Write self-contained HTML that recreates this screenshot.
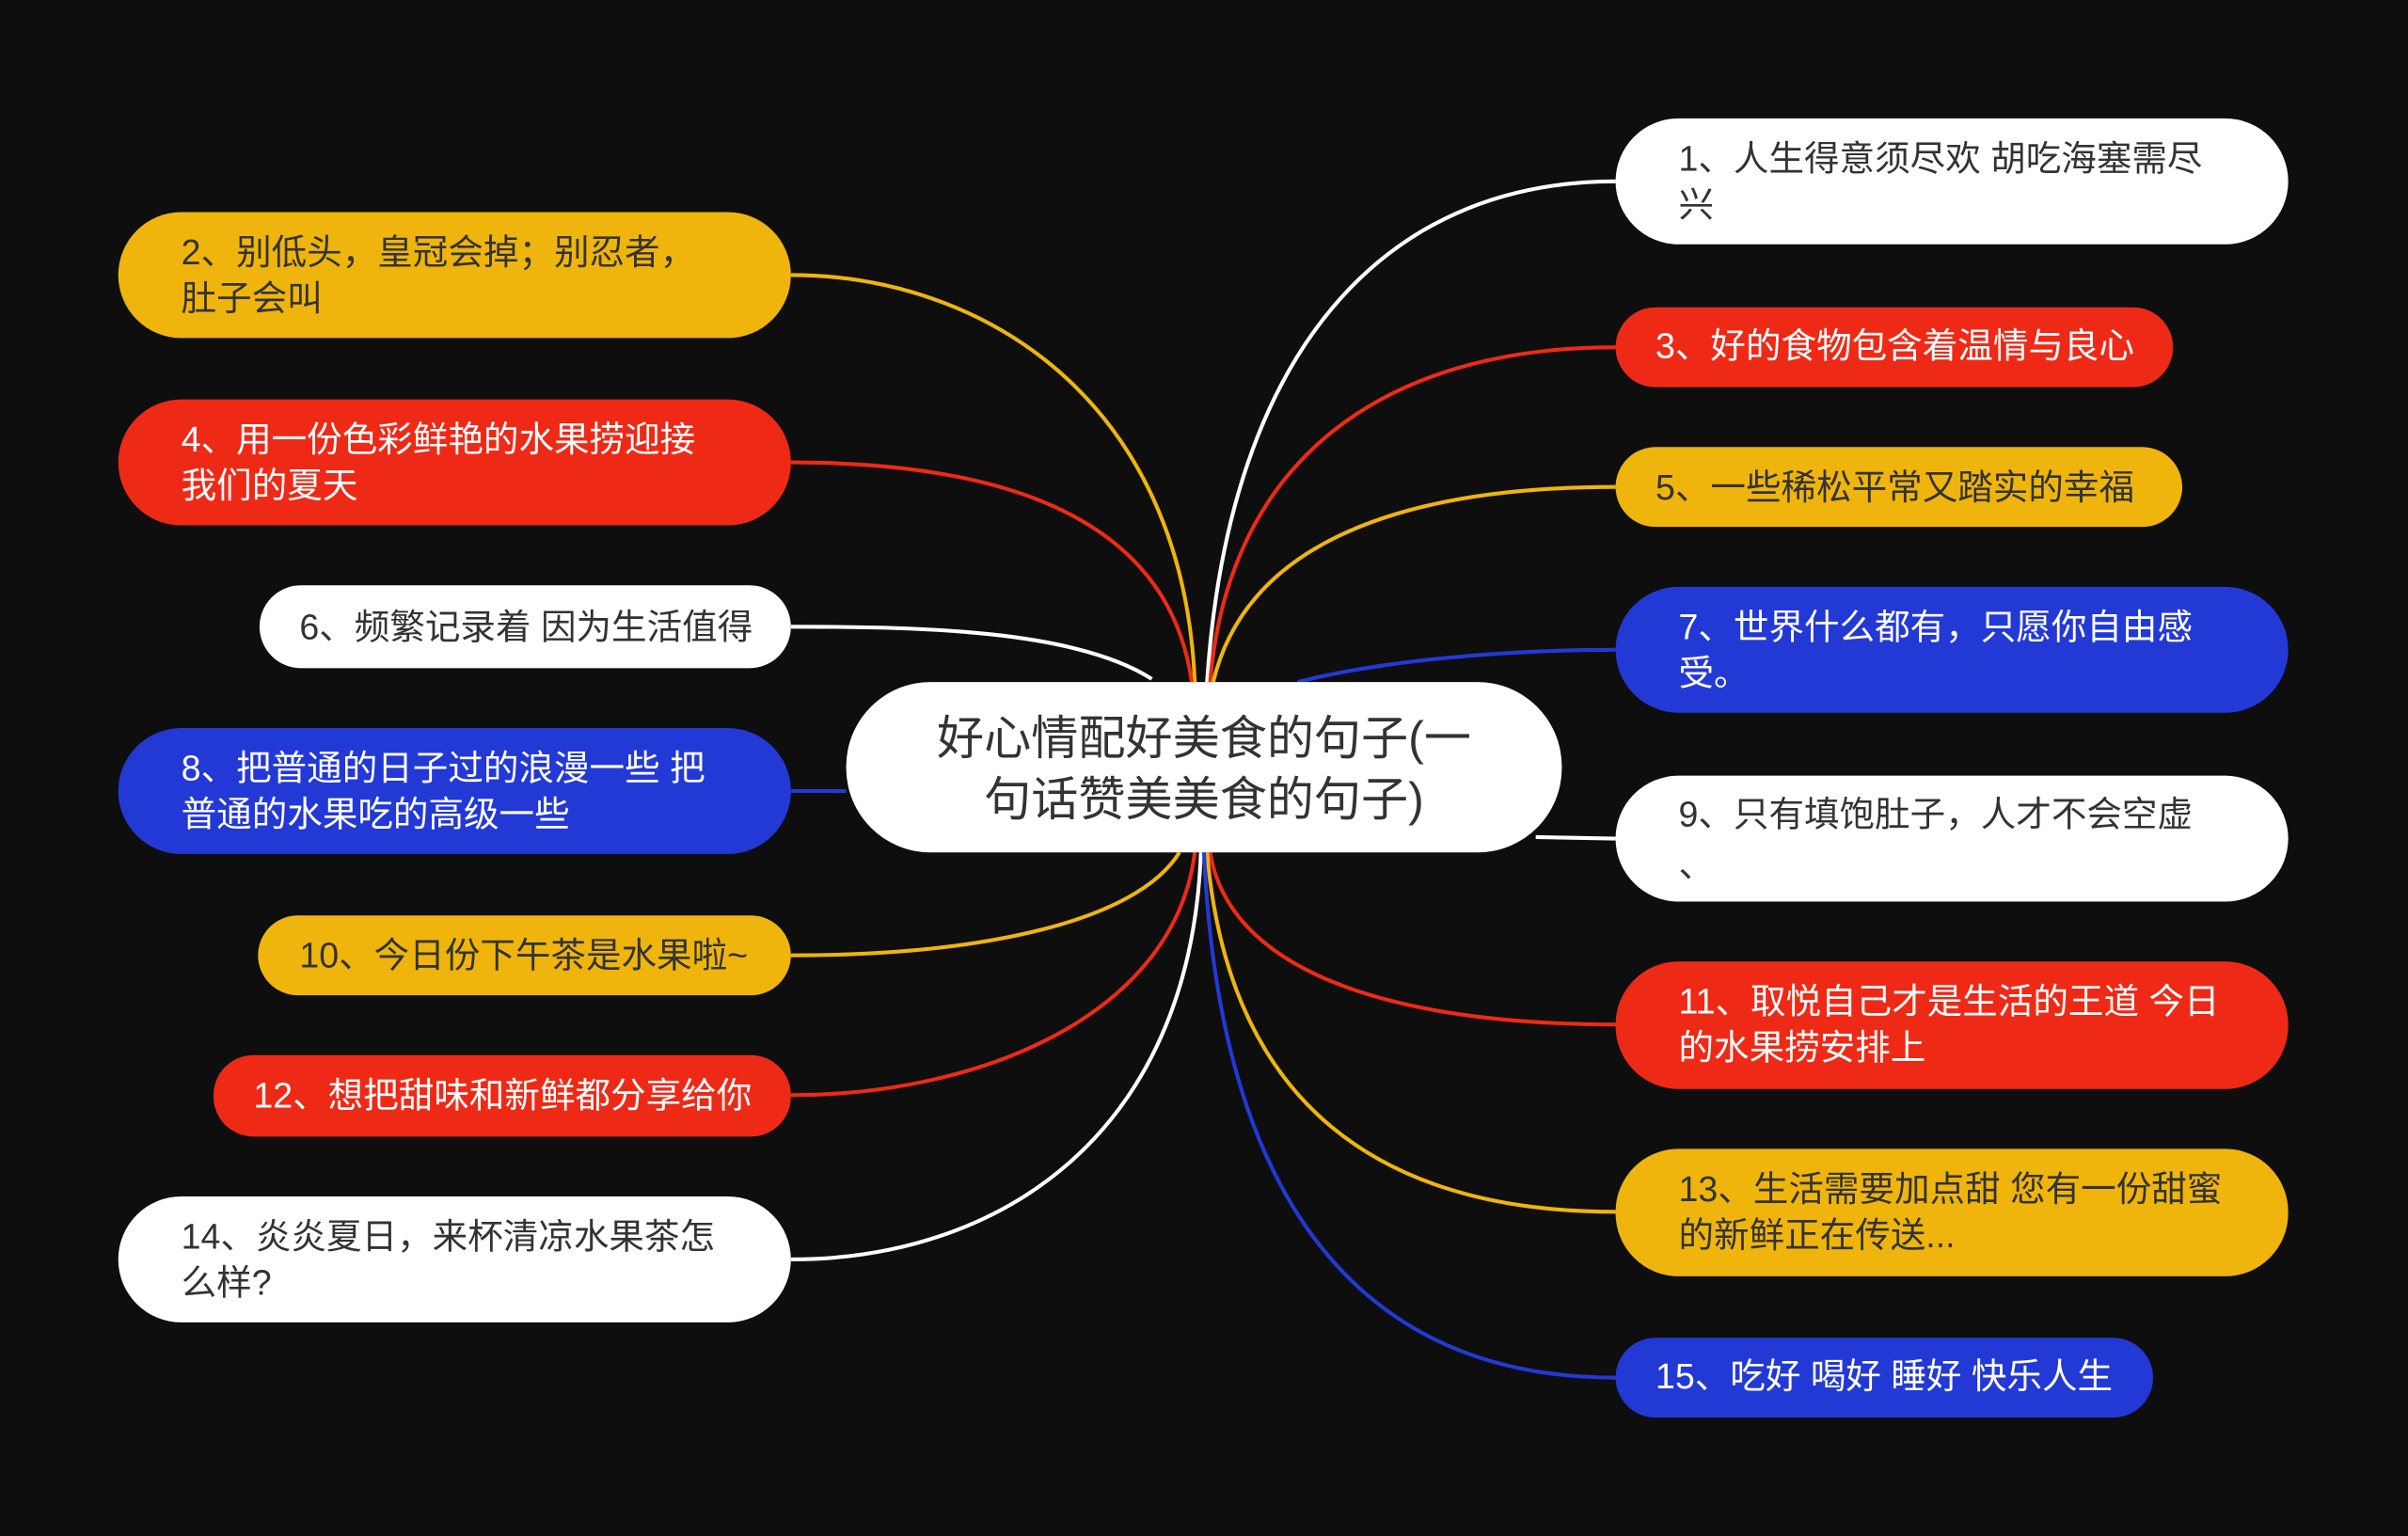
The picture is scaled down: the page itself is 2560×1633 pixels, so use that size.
<!DOCTYPE html>
<html><head><meta charset="utf-8"><style>
html,body{margin:0;padding:0;background:#0e0e0e;}
svg{display:block}
text{font-family:"Liberation Sans","Noto Sans CJK SC",sans-serif;font-size:23px;}
</style></head><body>
<svg width="2560" height="1633" viewBox="0 0 1568 1000" xmlns="http://www.w3.org/2000/svg">
<rect width="1568" height="1000" fill="#0e0e0e"/>
<g fill="none" stroke-width="2.5">
<path d="M778,444 C770,260 640,179 515,179" stroke="#efb50d"/>
<path d="M776,444 C760,330 640,301 515,301" stroke="#ee2a17"/>
<path d="M750,442 C700,410 600,408 515,408" stroke="#ffffff"/>
<path d="M551,515 L515,515" stroke="#2339d6"/>
<path d="M768,555 C740,600 640,622 515,622" stroke="#efb50d"/>
<path d="M778,555 C765,660 640,713 515,713" stroke="#ee2a17"/>
<path d="M782,555 C775,740 650,820 515,820" stroke="#ffffff"/>
<path d="M786,444 C800,230 900,118 1052,118" stroke="#ffffff"/>
<path d="M788,444 C800,300 900,226 1052,226" stroke="#ee2a17"/>
<path d="M790,444 C810,360 900,317 1052,317" stroke="#efb50d"/>
<path d="M845,444 C900,430 980,423 1052,423" stroke="#2339d6"/>
<path d="M1000,545 L1052,546" stroke="#ffffff"/>
<path d="M788,555 C800,630 900,667 1052,667" stroke="#ee2a17"/>
<path d="M786,555 C800,720 900,789 1052,789" stroke="#efb50d"/>
<path d="M784,555 C795,800 900,897 1052,897" stroke="#2339d6"/>
</g>
<rect x="551" y="444" width="466" height="111" rx="55" fill="#fff"/>
<text x="784" y="491" text-anchor="middle" fill="#333" style="font-size:30.7px">好心情配好美食的句子(一</text>
<text x="784" y="531" text-anchor="middle" fill="#333" style="font-size:30.7px">句话赞美美食的句子)</text>
<rect x="77" y="138" width="438" height="82" rx="41" fill="#efb50d"/>
<text x="118" y="172" fill="#333">2、别低头，皇冠会掉；别忍者，</text><text x="118" y="202" fill="#333">肚子会叫</text>
<rect x="77" y="260" width="438" height="82" rx="41" fill="#ee2a17"/>
<text x="118" y="294" fill="#fff">4、用一份色彩鲜艳的水果捞迎接</text><text x="118" y="324" fill="#fff">我们的夏天</text>
<rect x="169" y="381" width="346" height="54" rx="27" fill="#fff"/>
<text x="195" y="416" fill="#333">6、频繁记录着 因为生活值得</text>
<rect x="77" y="474" width="438" height="82" rx="41" fill="#2339d6"/>
<text x="118" y="508" fill="#fff">8、把普通的日子过的浪漫一些 把</text><text x="118" y="538" fill="#fff">普通的水果吃的高级一些</text>
<rect x="168" y="596" width="347" height="52" rx="26" fill="#efb50d"/>
<text x="195" y="630" fill="#333">10、今日份下午茶是水果啦~</text>
<rect x="139" y="687" width="376" height="53" rx="26" fill="#ee2a17"/>
<text x="165" y="721" fill="#fff">12、想把甜味和新鲜都分享给你</text>
<rect x="77" y="779" width="438" height="82" rx="41" fill="#fff"/>
<text x="118" y="813" fill="#333">14、炎炎夏日，来杯清凉水果茶怎</text><text x="118" y="843" fill="#333">么样?</text>
<rect x="1052" y="77" width="438" height="82" rx="41" fill="#fff"/>
<text x="1093" y="111" fill="#333">1、人生得意须尽欢 胡吃海塞需尽</text><text x="1093" y="141" fill="#333">兴</text>
<rect x="1052" y="200" width="363" height="52" rx="26" fill="#ee2a17"/>
<text x="1078" y="233" fill="#fff">3、好的食物包含着温情与良心</text>
<rect x="1052" y="291" width="369" height="52" rx="26" fill="#efb50d"/>
<text x="1078" y="325" fill="#333">5、一些稀松平常又踏实的幸福</text>
<rect x="1052" y="382" width="438" height="82" rx="41" fill="#2339d6"/>
<text x="1093" y="416" fill="#fff">7、世界什么都有，只愿你自由感</text><text x="1093" y="446" fill="#fff">受。</text>
<rect x="1052" y="505" width="438" height="82" rx="41" fill="#fff"/>
<text x="1093" y="538" fill="#333">9、只有填饱肚子，人才不会空虚</text><text x="1093" y="571" fill="#333">、</text>
<rect x="1052" y="626" width="438" height="83" rx="41" fill="#ee2a17"/>
<text x="1093" y="660" fill="#fff">11、取悦自己才是生活的王道 今日</text><text x="1093" y="690" fill="#fff">的水果捞安排上</text>
<rect x="1052" y="748" width="438" height="83" rx="41" fill="#efb50d"/>
<text x="1093" y="782" fill="#333">13、生活需要加点甜 您有一份甜蜜</text><text x="1093" y="812" fill="#333">的新鲜正在传送...</text>
<rect x="1052" y="871" width="350" height="52" rx="26" fill="#2339d6"/>
<text x="1078" y="904" fill="#fff">15、吃好 喝好 睡好 快乐人生</text>
</svg>
</body></html>
